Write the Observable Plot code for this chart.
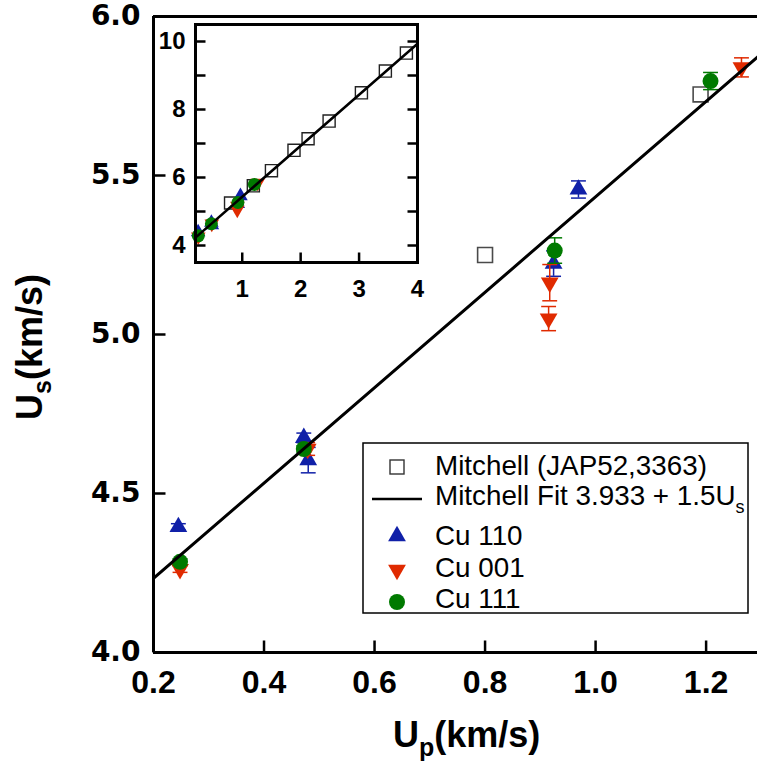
<!DOCTYPE html>
<html><head><meta charset="utf-8">
<script src="https://cdn.jsdelivr.net/npm/d3@7"></script>
<script src="https://cdn.jsdelivr.net/npm/@observablehq/plot@0.6"></script>
<style>
body{margin:0;background:#fff;}
#wrap{position:relative;width:757px;height:774px;overflow:hidden;font-family:"Liberation Sans",Arial,sans-serif;background:#fff;}
#wrap svg{position:absolute;}
</style></head><body><div id="wrap"></div>
<script>
// ---- data ----
const mitchellUp = [0.80, 1.19, 1.50, 1.886, 2.127, 2.487, 3.04, 3.45, 3.81];
const mitchellUs = [5.25, 5.755, 6.20, 6.80, 7.14, 7.66, 8.49, 9.13, 9.66];
const cu110Up  = [0.245, 0.472, 0.480, 0.924, 0.969];
const cu110Us  = [4.395, 4.675, 4.605, 5.223, 5.456];
const cu110Err = [0.010, 0.015, 0.040, 0.040, 0.027];
const cu001Up  = [0.248, 0.479, 0.917, 0.915, 1.264];
const cu001Us  = [4.262, 4.640, 5.163, 5.050, 5.840];
const cu001Err = [0.010, 0.020, 0.057, 0.038, 0.030];
const cu111Up  = [0.248, 0.472, 0.926, 1.208];
const cu111Us  = [4.285, 4.640, 5.264, 5.797];
const cu111Err = [0.010, 0.010, 0.040, 0.027];
const fitIntercept = 3.933, fitSlope = 1.5;
const fitUpRange = [0.2, 4];
const mainXDomain = [0.2, 1.293];
const mainYDomain = [4, 6];
const mainXTicks = [0.2, 0.4, 0.6, 0.8, 1.0, 1.2];
const mainYTicks = [4.0, 4.5, 5.0, 5.5, 6.0];
const insetXDomain = [0.2, 4];
const insetYDomain = [3.5, 10.5];
const insetXTicks = [1, 2, 3, 4];
const insetYLabels = [4, 6, 8, 10];
const insetYTickMarks = [4, 5, 6, 7, 8, 9, 10];
const legendLabels = ["Mitchell (JAP52,3363)", "Mitchell Fit 3.933 + 1.5U", "Cu 110", "Cu 001", "Cu 111"];

const BLUE = "#1020a8", RED = "#e02a00", GREEN = "#007a00";
const sqrt3 = Math.sqrt(3);
const triDown = {draw(ctx, size){const y = -Math.sqrt(size/(3*sqrt3)); ctx.moveTo(0,-2*y); ctx.lineTo(-sqrt3*y,y); ctx.lineTo(sqrt3*y,y); ctx.closePath();}};
const capSym = {draw(ctx, size){const w = Math.sqrt(size)/2; ctx.moveTo(-w,0); ctx.lineTo(w,0);}};
const tickSym = (dx, dy) => ({draw(ctx){ctx.moveTo(0,0); ctx.lineTo(dx,dy);}});

const rows = (xs, ys, es) => xs.map((x,i) => ({x, y: ys[i], e: es ? es[i] : 0}));
const fitData = fitUpRange.map(x => ({x, y: fitIntercept + fitSlope*x}));

function series(data, color, symbol, r, withErr) {
  const m = [];
  if (withErr) {
    m.push(Plot.ruleX(data, {x:"x", y1: d=>d.y-d.e, y2: d=>d.y+d.e, stroke: color, strokeWidth: 1.5, clip: true}));
    m.push(Plot.dot(data, {x:"x", y: d=>d.y-d.e, symbol: capSym, r: 8.4, stroke: color, fill: "none", strokeWidth: 1.5, clip: true}));
    m.push(Plot.dot(data, {x:"x", y: d=>d.y+d.e, symbol: capSym, r: 8.4, stroke: color, fill: "none", strokeWidth: 1.5, clip: true}));
  }
  m.push(Plot.dot(data, {x:"x", y:"y", symbol, r, fill: color, stroke: "none", clip: true}));
  return m;
}

const mit = rows(mitchellUp, mitchellUs);
const c110 = rows(cu110Up, cu110Us, cu110Err);
const c001 = rows(cu001Up, cu001Us, cu001Err);
const c111 = rows(cu111Up, cu111Us, cu111Err);

// ---- main plot ----
const main = Plot.plot({
  width: 757, height: 774,
  marginLeft: 153, marginRight: 0, marginTop: 16, marginBottom: 122,
  style: {fontFamily: "Liberation Sans, Arial, sans-serif", background: "transparent", overflow: "visible"},
  x: {domain: mainXDomain, label: null},
  y: {domain: mainYDomain, label: null},
  marks: [
    Plot.dot(mit, {x:"x", y:"y", symbol:"square", r: 8.4, fill:"none", stroke:"#4a4a4a", strokeWidth: 1.6, clip: true}),
    ...series(c110, BLUE, "triangle", 6.6, true),
    ...series(c001, RED, triDown, 6.6, true),
    ...series(c111, GREEN, "circle", 8, true),
    Plot.line(fitData, {x:"x", y:"y", stroke:"black", strokeWidth: 3, clip: true}),
    Plot.ruleX([mainXDomain[0]], {stroke:"black", strokeWidth: 3}),
    Plot.ruleY(mainYDomain, {stroke:"black", strokeWidth: 3}),
    Plot.dot(mainYTicks, {y: d=>d, frameAnchor:"left", symbol: tickSym(12,0), r: 1, stroke:"black", strokeWidth: 2.5, fill:"none"}),
    Plot.dot(mainXTicks, {x: d=>d, frameAnchor:"bottom", symbol: tickSym(0,-12), r: 1, stroke:"black", strokeWidth: 2.5, fill:"none"}),
    Plot.axisY({ticks: mainYTicks, tickFormat: d3.format(".1f"), tickSize: 0, tickPadding: 13, fontSize: 28, fontWeight: "bold", fontFamily: "DejaVu Sans", label: null}),
    Plot.axisX({ticks: mainXTicks, tickFormat: d3.format(".1f"), tickSize: 0, tickPadding: 18, fontSize: 32, fontWeight: "bold", label: null})
  ]
});
main.style.left = "0px"; main.style.top = "0px";
document.getElementById("wrap").appendChild(main);

const svg = d3.select(main);
// axis titles with subscripts
const xt = svg.append("text").attr("x", 393).attr("y", 747).attr("text-anchor", "start")
  .attr("font-size", 36).attr("font-weight", "bold").attr("fill", "black");
xt.append("tspan").text("U");
xt.append("tspan").attr("font-size", 25).attr("dy", 9).text("p");
xt.append("tspan").attr("dy", -9).text("(km/s)");
const yt = svg.append("text").attr("transform", "translate(42,420) rotate(-90)").attr("text-anchor", "start")
  .attr("font-size", 36).attr("font-weight", "bold").attr("fill", "black");
yt.append("tspan").text("U");
yt.append("tspan").attr("font-size", 25).attr("dy", 9).text("s");
yt.append("tspan").attr("dy", -9).text("(km/s)");

// legend
const lg = svg.append("g").attr("text-anchor", "start");
lg.append("rect").attr("x", 363).attr("y", 443).attr("width", 385).attr("height", 170)
  .attr("fill", "white").attr("stroke", "black").attr("stroke-width", 1.5);
const baselines = [475, 505, 545, 577, 608];
legendLabels.forEach((t, i) => {
  const tx = lg.append("text").attr("x", 435).attr("y", baselines[i]).attr("text-anchor", "start")
    .attr("font-size", 27.8).attr("fill", "black").text(t);
  if (i === 1) tx.append("tspan").attr("font-size", 18).attr("dy", 8).text("s");
});
lg.append("rect").attr("x", 390).attr("y", 460).attr("width", 14).attr("height", 14)
  .attr("fill", "none").attr("stroke", "#333").attr("stroke-width", 1.4);
lg.append("line").attr("x1", 372).attr("x2", 422).attr("y1", 499).attr("y2", 499)
  .attr("stroke", "black").attr("stroke-width", 2.5);
const symSize = Math.PI*6.6*6.6;
lg.append("path").attr("transform", "translate(397,536)").attr("d", d3.symbol(d3.symbolTriangle, symSize)()).attr("fill", BLUE);
lg.append("path").attr("transform", "translate(397,570)").attr("d", d3.symbol(triDown, symSize)()).attr("fill", RED);
lg.append("circle").attr("cx", 397).attr("cy", 602).attr("r", 8).attr("fill", GREEN);

// ---- inset ----
const inset = Plot.plot({
  width: 280, height: 305,
  marginLeft: 45, marginRight: 13, marginTop: 24, marginBottom: 43,
  style: {fontFamily: "Liberation Sans, Arial, sans-serif", background: "transparent", overflow: "visible"},
  x: {domain: insetXDomain, label: null},
  y: {domain: insetYDomain, label: null},
  marks: [
    Plot.dot(mit, {x:"x", y:"y", symbol:"square", r: 6.8, fill:"none", stroke:"#222", strokeWidth: 1.4}),
    Plot.dot(c110, {x:"x", y:"y", symbol:"triangle", r: 5.4, fill: BLUE}),
    Plot.dot(c001, {x:"x", y:"y", symbol: triDown, r: 5.4, fill: RED}),
    Plot.dot(c111, {x:"x", y:"y", symbol:"circle", r: 6.5, fill: GREEN}),
    Plot.line(fitData, {x:"x", y:"y", stroke:"black", strokeWidth: 2.5}),
    Plot.frame({stroke:"black", strokeWidth: 3}),
    Plot.dot(insetYTickMarks, {y: d=>d, frameAnchor:"left", symbol: tickSym(10,0), r: 1, stroke:"black", strokeWidth: 2.5, fill:"none"}),
    Plot.dot(insetYTickMarks, {y: d=>d, frameAnchor:"right", symbol: tickSym(-10,0), r: 1, stroke:"black", strokeWidth: 2.5, fill:"none"}),
    Plot.dot(insetXTicks.slice(0, -1), {x: d=>d, frameAnchor:"bottom", symbol: tickSym(0,-10), r: 1, stroke:"black", strokeWidth: 2.5, fill:"none"}),
    Plot.axisY({ticks: insetYLabels, tickFormat: d3.format("d"), tickSize: 0, tickPadding: 10, fontSize: 24, fontWeight: "bold", label: null}),
    Plot.axisX({ticks: insetXTicks, tickFormat: d3.format("d"), tickSize: 0, tickPadding: 17, fontSize: 24, fontWeight: "bold", label: null})
  ]
});
inset.style.left = "150px"; inset.style.top = "0px";
document.getElementById("wrap").appendChild(inset);
</script>
</body></html>
